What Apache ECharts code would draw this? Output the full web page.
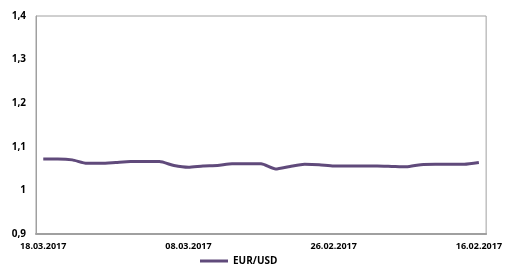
<!DOCTYPE html>
<html lang="en">
<head>
    <meta charset="UTF-8">
    <title>EUR/USD</title>
    <script src="https://cdn.jsdelivr.net/npm/echarts@6/dist/echarts.min.js"></script>
    <style>
        html, body { margin: 0; padding: 0; background: #fff; }
    </style>
</head>
<body>
<div id="container" style="width: 505px; height: 269px;"></div>

<script>
    // dates, newest first (as on the chart)
    var dates = [
        '18.03.2017', '17.03.2017', '16.03.2017', '15.03.2017', '14.03.2017', '13.03.2017',
        '12.03.2017', '11.03.2017', '10.03.2017', '09.03.2017', '08.03.2017', '07.03.2017',
        '06.03.2017', '05.03.2017', '04.03.2017', '03.03.2017', '02.03.2017', '01.03.2017',
        '28.02.2017', '27.02.2017', '26.02.2017', '25.02.2017', '24.02.2017', '23.02.2017',
        '22.02.2017', '21.02.2017', '20.02.2017', '19.02.2017', '18.02.2017', '17.02.2017',
        '16.02.2017'
    ];
    var eurUsd = [
        1.072, 1.072, 1.070, 1.062, 1.062, 1.064, 1.066, 1.066, 1.066, 1.057,
        1.053, 1.056, 1.057, 1.061, 1.061, 1.061, 1.049, 1.055, 1.060, 1.059,
        1.056, 1.056, 1.056, 1.056, 1.055, 1.054, 1.059, 1.060, 1.060, 1.060,
        1.064
    ];
    var seriesName = 'EUR/USD';

    var font = 'Open Sans';
    var chart = echarts.init(document.getElementById('container'));
    chart.setOption({
        animation: false,
        grid: {
            left: 36, right: 17, top: 16, bottom: 35,
            show: true,
            borderColor: '#a0a0a0',
            borderWidth: 1
        },
        legend: {
            top: 256,
            left: 200,
            padding: 0,
            icon: 'rect',
            itemWidth: 28,
            itemHeight: 3,
            itemGap: 4,
            textStyle: { fontFamily: font, fontWeight: 'bold', fontSize: 10, color: '#000' },
            data: [seriesName]
        },
        xAxis: {
            type: 'category',
            data: dates,
            boundaryGap: true,
            axisLine: { lineStyle: { color: '#a0a0a0', width: 2 } },
            axisTick: { show: false },
            axisLabel: {
                interval: 9,
                margin: 8,
                fontFamily: font, fontWeight: 'bold', fontSize: 9, color: '#000'
            },
            splitLine: { show: false }
        },
        yAxis: {
            type: 'value',
            min: 0.9,
            max: 1.4,
            interval: 0.1,
            axisLine: { show: true, lineStyle: { color: '#a0a0a0' } },
            axisTick: { show: false },
            splitLine: { show: false },
            axisLabel: {
                margin: 10,
                fontFamily: font, fontWeight: 'bold', fontSize: 10, color: '#000',
                formatter: function (v) {
                    return String(Math.round(v * 10) / 10).replace('.', ',');
                }
            }
        },
        series: [{
            name: seriesName,
            type: 'line',
            data: eurUsd,
            smooth: 0.2,
            showSymbol: false,
            symbol: 'none',
            itemStyle: { color: '#604a7b' },
            lineStyle: { color: '#604a7b', width: 3 }
        }]
    });
</script>
</body>
</html>
